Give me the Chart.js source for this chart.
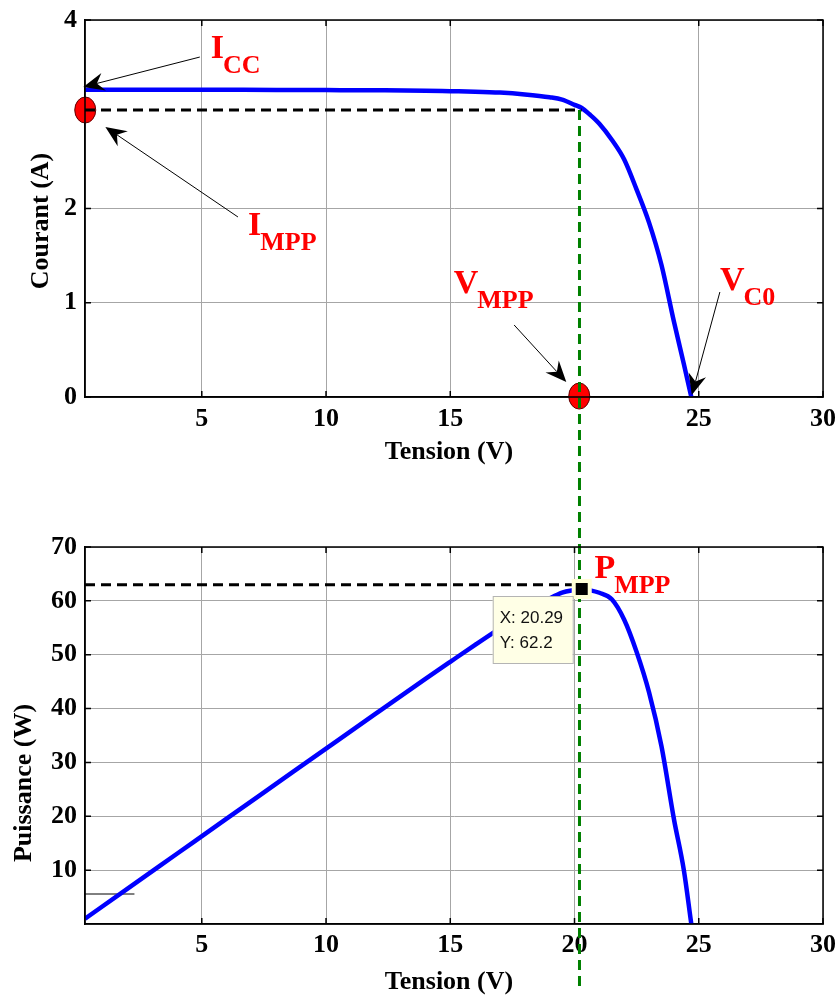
<!DOCTYPE html>
<html><head><meta charset="utf-8">
<script src="https://cdn.jsdelivr.net/npm/chart.js@4.4.1/dist/chart.umd.min.js"></script>
<style>
html,body{margin:0;padding:0;background:#fff;}
#wrap{position:relative;width:839px;height:998px;overflow:hidden;background:#fff;}
canvas{position:absolute;left:0;}
</style></head><body>
<div id="wrap">
<canvas id="c1" width="839" height="480" style="top:0px"></canvas>
<canvas id="c2" width="839" height="518" style="top:480px"></canvas>
</div>
<script>
// ---------- data ----------
const tension   = [0.3, 2, 4, 6, 8, 10, 12, 14, 15, 16, 17, 18, 19, 19.5, 20, 20.29, 20.6, 21, 21.5, 22, 22.5, 23, 23.5, 24, 24.4, 24.7];
const courant   = [3.26, 3.26, 3.26, 3.259, 3.258, 3.256, 3.254, 3.25, 3.245, 3.24, 3.23, 3.21, 3.18, 3.155, 3.1, 3.066, 3.0, 2.9, 2.73, 2.52, 2.2, 1.85, 1.4, 0.8, 0.35, 0];
const puissance = [0.98, 6.52, 13.04, 19.56, 26.06, 32.56, 39.05, 45.5, 48.68, 51.84, 54.91, 57.78, 60.42, 61.52, 62.0, 62.2, 62.0, 61.5, 60.3, 56.5, 50.5, 43.0, 33.0, 19.5, 10.0, 0];

const xTicksTop    = [5, 10, 15, 25, 30];
const yTicksTop    = [0, 1, 2, 4];
const xTicksBottom = [5, 10, 15, 20, 25, 30];
const yTicksBottom = [10, 20, 30, 40, 50, 60, 70];

const xMin = 0.3, xMax = 30;
const vMpp = 20.29, iMppLevel = 3.045, pMpp = 62.2, pMppLevel = 63;
const vGreen = 20.2;
const smallLineV = [0.3, 2.29], smallLineP = [5.57, 5.57];
const tipTexts = ['X: 20.29', 'Y: 62.2'];

// annotation anchors (data coordinates)
const markerPoints = [{v: 0.31, i: 3.045}, {v: 20.19, i: 0.01}];
const labelsTop = [
  {main: 'I', sub: 'CC',  v: 5.36,  y: 3.597},
  {main: 'I', sub: 'MPP', v: 6.86,  y: 1.719},
  {main: 'V', sub: 'MPP', v: 15.14, y: 1.103},
  {main: 'V', sub: 'C0',  v: 25.85, y: 1.135}
];
const arrowsTop = [
  {from: [4.92, 3.607],  to: [0.23, 3.29]},
  {from: [6.455, 1.91],  to: [1.12, 2.865]},
  {from: [17.57, 0.764], to: [19.67, 0.159]},
  {from: [25.85, 1.114], to: [24.72, 0.02]}
];
const labelBottom = {main: 'P', sub: 'MPP', v: 20.80, y: 64.28};

// ---------- helpers ----------
const SERIF = "'Liberation Serif', 'Times New Roman', serif";
Chart.defaults.font.family = SERIF;
Chart.defaults.color = '#000';
Chart.defaults.animation = false;

function arrow(ctx, x1, y1, x2, y2) {
  const a = Math.atan2(y2 - y1, x2 - x1), c = Math.cos(a), s = Math.sin(a);
  const L = 21, W = 9, back = 7;
  const mx = x2 - c * (L - back), my = y2 - s * (L - back);
  ctx.beginPath(); ctx.moveTo(x1, y1); ctx.lineTo(mx, my); ctx.stroke();
  const bx = x2 - c * L, by = y2 - s * L, nx = -s, ny = c;
  ctx.beginPath(); ctx.moveTo(x2, y2); ctx.lineTo(bx + nx * W, by + ny * W);
  ctx.lineTo(mx, my); ctx.lineTo(bx - nx * W, by - ny * W); ctx.closePath(); ctx.fill();
}
function subLabel(ctx, x, y, main, sub) {
  ctx.fillStyle = '#FF0000'; ctx.textAlign = 'left'; ctx.textBaseline = 'alphabetic';
  ctx.font = "bold 34px " + SERIF; ctx.fillText(main, x, y);
  const w = ctx.measureText(main).width;
  ctx.font = "bold 26px " + SERIF; ctx.fillText(sub, x + w - 1, y + 15);
}
function frame(chart) {
  const {ctx, chartArea: a} = chart, xs = chart.scales.x, ys = chart.scales.y;
  ctx.save();
  ctx.strokeStyle = '#000'; ctx.lineWidth = 1.5;
  ctx.strokeRect(a.left, a.top, a.right - a.left, a.bottom - a.top);
  ctx.beginPath();
  xs.ticks.forEach(t => { const p = xs.getPixelForValue(t.value);
    ctx.moveTo(p, a.bottom); ctx.lineTo(p, a.bottom - 6); ctx.moveTo(p, a.top); ctx.lineTo(p, a.top + 6); });
  ys.ticks.forEach(t => { const p = ys.getPixelForValue(t.value);
    ctx.moveTo(a.left, p); ctx.lineTo(a.left + 6, p); ctx.moveTo(a.right, p); ctx.lineTo(a.right - 6, p); });
  ctx.stroke();
  ctx.restore();
}
function titles(chart, xt, xc, xcy, yt, yx, yy) {
  const ctx = chart.ctx;
  ctx.save();
  ctx.fillStyle = '#000'; ctx.font = "bold 26px " + SERIF;
  ctx.textAlign = 'center'; ctx.textBaseline = 'middle';
  ctx.fillText(xt, xc, xcy);
  ctx.translate(yx, yy); ctx.rotate(-Math.PI / 2); ctx.fillText(yt, 0, 0);
  ctx.restore();
}
function greenLine(chart, yFrom, yTo) {
  const ctx = chart.ctx, x = chart.scales.x.getPixelForValue(vGreen);
  ctx.save(); ctx.strokeStyle = '#008000'; ctx.lineWidth = 3; ctx.setLineDash([10, 6]);
  ctx.beginPath(); ctx.moveTo(x, yFrom); ctx.lineTo(x, yTo); ctx.stroke(); ctx.restore();
}
function scaleOpts(min, max, ticks, fit, pad) {
  return {
    type: 'linear', min: min, max: max,
    afterBuildTicks: s => { s.ticks = ticks.map(v => ({value: v})); },
    afterFit: s => { fit(s); s.paddingLeft = 0; s.paddingRight = 0; s.paddingTop = 0; s.paddingBottom = 0; },
    grid: {color: '#a6a6a6', lineWidth: 1, drawTicks: false},
    border: {display: true, color: '#000', width: 1.5},
    ticks: {font: {size: 26, weight: 'bold', family: SERIF}, color: '#000', padding: pad, maxRotation: 0, autoSkip: false}
  };
}

// ---------- top chart : I(V) ----------
new Chart(document.getElementById('c1'), {
  type: 'scatter',
  data: {datasets: [
    {data: [{x: xMin, y: iMppLevel}, {x: vMpp, y: iMppLevel}], showLine: true, borderColor: '#000', borderWidth: 3,
     borderDash: [10, 6], pointRadius: 0, order: 1},
    {data: tension.map((v, k) => ({x: v, y: courant[k]})), showLine: true, borderColor: '#0000FF', borderWidth: 4.5,
     pointRadius: 0, cubicInterpolationMode: 'monotone', order: 2}
  ]},
  options: {
    responsive: false, devicePixelRatio: 1,
    layout: {padding: {top: 20, right: 16, left: 0, bottom: 0}},
    plugins: {legend: {display: false}, tooltip: {enabled: false}},
    scales: {
      x: scaleOpts(xMin, xMax, xTicksTop, s => { s.height = 83; }, 7),
      y: scaleOpts(0, 4, yTicksTop, s => { s.width = 85; }, 8)
    }
  },
  plugins: [{
    id: 'topDeco',
    beforeDatasetsDraw(chart) {
      const ctx = chart.ctx, xs = chart.scales.x, ys = chart.scales.y;
      ctx.save();
      markerPoints.forEach(m => {
        ctx.beginPath();
        ctx.ellipse(xs.getPixelForValue(m.v), ys.getPixelForValue(m.i), 10.5, 13, 0, 0, Math.PI * 2);
        ctx.fillStyle = '#FF0000'; ctx.fill(); ctx.strokeStyle = '#600000'; ctx.lineWidth = 1; ctx.stroke();
      });
      ctx.restore();
    },
    afterDatasetsDraw(chart) {
      const ctx = chart.ctx, xs = chart.scales.x, ys = chart.scales.y;
      greenLine(chart, ys.getPixelForValue(iMppLevel), chart.height);
      frame(chart);
      ctx.save();
      ctx.strokeStyle = '#000'; ctx.fillStyle = '#000'; ctx.lineWidth = 1;
      arrowsTop.forEach(a => arrow(ctx, xs.getPixelForValue(a.from[0]), ys.getPixelForValue(a.from[1]),
                                        xs.getPixelForValue(a.to[0]), ys.getPixelForValue(a.to[1])));
      labelsTop.forEach(l => subLabel(ctx, xs.getPixelForValue(l.v), ys.getPixelForValue(l.y), l.main, l.sub));
      ctx.restore();
      titles(chart, 'Tension (V)', 449, 452, 'Courant (A)', 41, 221);
    }
  }]
});

// ---------- bottom chart : P(V) ----------
new Chart(document.getElementById('c2'), {
  type: 'scatter',
  data: {datasets: [
    {data: [{x: xMin, y: pMppLevel}, {x: vMpp, y: pMppLevel}], showLine: true, borderColor: '#000', borderWidth: 3,
     borderDash: [10, 6], pointRadius: 0, order: 1, clip: false},
    {data: smallLineV.map((v, k) => ({x: v, y: smallLineP[k]})), showLine: true, borderColor: '#000', borderWidth: 1,
     pointRadius: 0, order: 3},
    {data: tension.map((v, k) => ({x: v, y: puissance[k]})), showLine: true, borderColor: '#0000FF', borderWidth: 4.5,
     pointRadius: 0, cubicInterpolationMode: 'monotone', order: 2}
  ]},
  options: {
    responsive: false, devicePixelRatio: 1,
    layout: {padding: {top: 67, right: 16, left: 0, bottom: 0}},
    plugins: {legend: {display: false}, tooltip: {enabled: false}},
    scales: {
      x: scaleOpts(xMin, xMax, xTicksBottom, s => { s.height = 74; }, 6),
      y: scaleOpts(0, 70, yTicksBottom, s => { s.width = 85; }, 8)
    }
  },
  plugins: [{
    id: 'bottomDeco',
    afterDatasetsDraw(chart) {
      const ctx = chart.ctx, xs = chart.scales.x, ys = chart.scales.y;
      greenLine(chart, 0, ys.getPixelForValue(-11.5));
      frame(chart);
      const px = xs.getPixelForValue(vMpp), py = ys.getPixelForValue(pMpp);
      ctx.save();
      // data tip marker
      ctx.fillStyle = '#FFFFD8'; ctx.fillRect(px - 10, py - 10, 20, 20);
      ctx.fillStyle = '#000'; ctx.fillRect(px - 6, py - 6, 12, 12);
      // data tip box
      const bx = px - 89, by = py + 7, bw = 80, bh = 67;
      ctx.fillStyle = '#FFFFE6'; ctx.fillRect(bx, by, bw, bh);
      ctx.strokeStyle = '#b4b4b4'; ctx.lineWidth = 1; ctx.strokeRect(bx + 0.5, by + 0.5, bw, bh);
      ctx.fillStyle = '#111'; ctx.font = "17px 'Liberation Sans', Arial, sans-serif";
      ctx.textAlign = 'left'; ctx.textBaseline = 'alphabetic';
      ctx.fillText(tipTexts[0], bx + 7, by + 27);
      ctx.fillText(tipTexts[1], bx + 7, by + 52);
      subLabel(ctx, xs.getPixelForValue(labelBottom.v), ys.getPixelForValue(labelBottom.y), labelBottom.main, labelBottom.sub);
      ctx.restore();
      titles(chart, 'Tension (V)', 449, 502, 'Puissance (W)', 24, 303);
    }
  }]
});
</script>
</body></html>
